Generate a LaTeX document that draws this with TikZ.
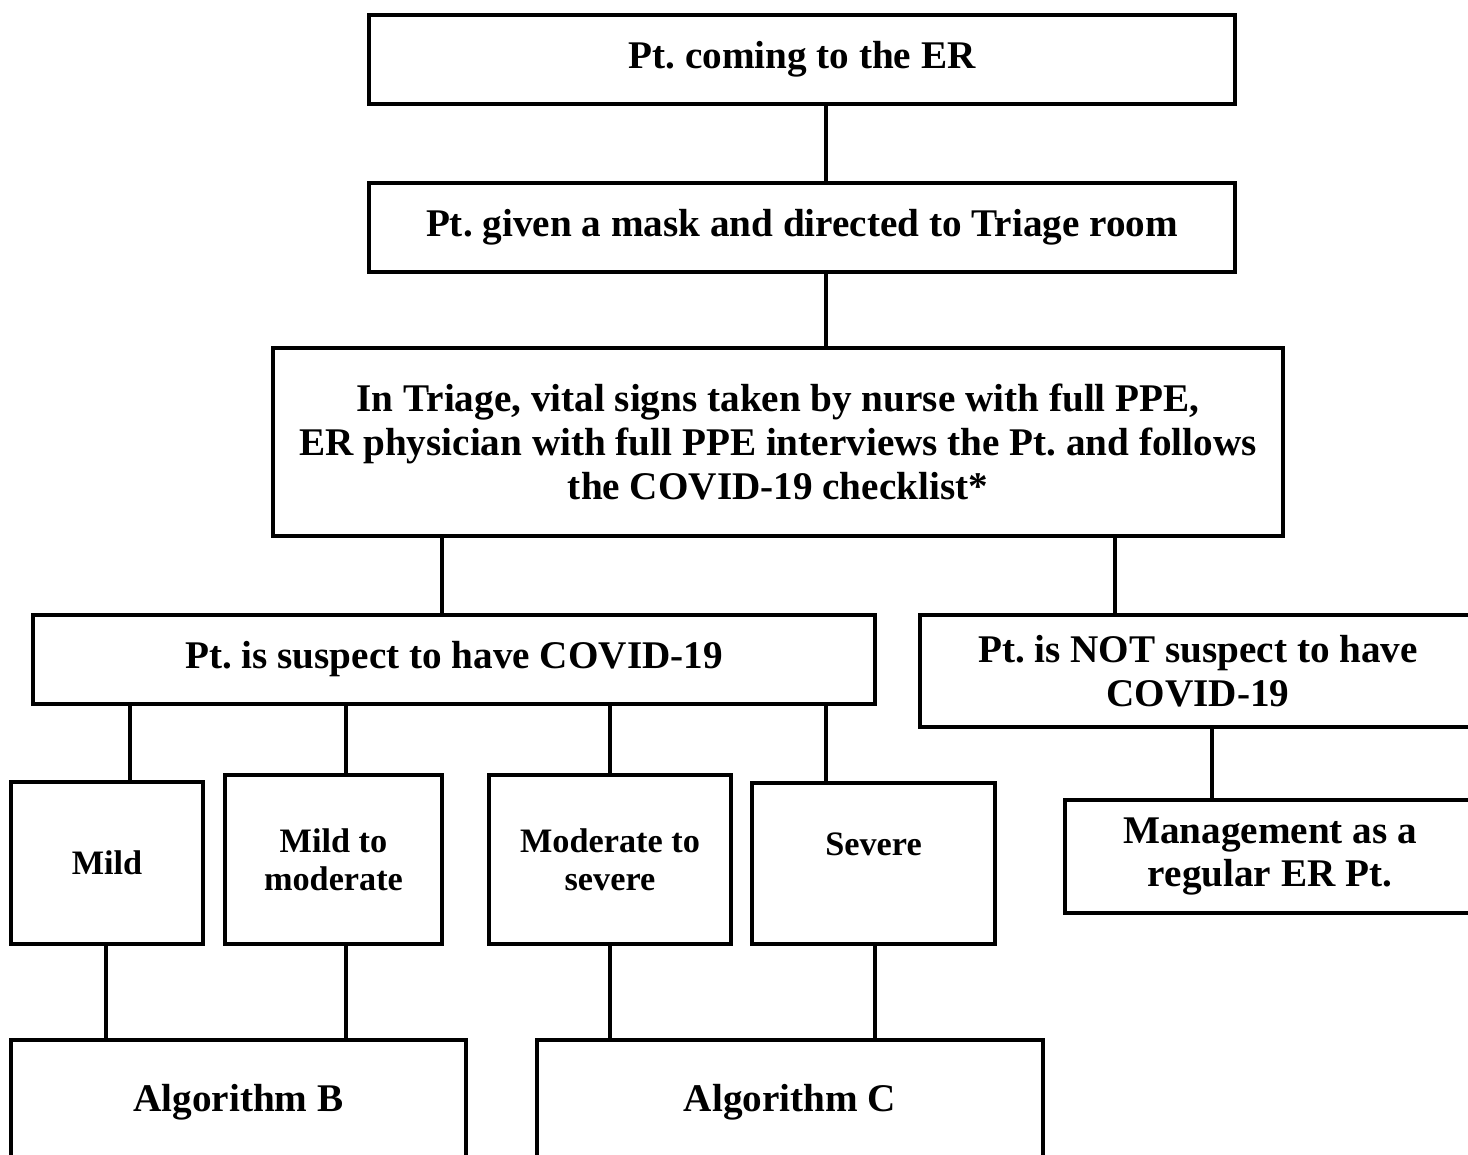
\documentclass[tikz,border=0pt]{standalone}
\usepackage{fontspec}
\setmainfont{Liberation Serif}
\frenchspacing
\tikzset{
  flowbox/.style={draw, line width=2.4pt, rectangle, align=center, inner sep=0pt,
    font=\bfseries\fontsize{22.3}{24.8}\selectfont},
  smallbox/.style={flowbox, font=\bfseries\fontsize{19.5}{21.6}\selectfont},
  link/.style={line width=2.2pt}
}
\begin{document}
\begin{tikzpicture}[x=0.02cm, y=-0.02cm]
    \useasboundingbox (0,0) rectangle (1468,1155);
    \clip (0,0) rectangle (1468,1155);
    \node (er) at (802,59.5) [flowbox, minimum width=17.32cm, minimum height=1.78cm] {Pt. coming to the ER};
    \node (mask) at (802,227.5) [flowbox, minimum width=17.32cm, minimum height=1.78cm] {Pt. given a mask and directed to Triage room};
    \node (triage) at (778,442) [flowbox, minimum width=20.2cm, minimum height=3.76cm]
    {In Triage, vital signs taken by nurse with full PPE,\\ER physician with full PPE interviews the Pt. and follows\\the COVID-19 checklist*};
    \node (sus) at (454,659.5) [flowbox, minimum width=16.84cm, minimum height=1.78cm] {Pt. is suspect to have COVID-19};
    \node (notsus) at (1198,671) [flowbox, minimum width=11.12cm, minimum height=2.24cm] {Pt. is NOT suspect to have\\COVID-19};
    \node (mild) at (107,863) [smallbox, minimum width=3.84cm, minimum height=3.24cm] {Mild};
    \node (mildmod) at (333.5,859.5) [smallbox, minimum width=4.34cm, minimum height=3.38cm] {Mild to\\moderate};
    \node (modsev) at (610,859.5) [smallbox, minimum width=4.84cm, minimum height=3.38cm] {Moderate to\\severe};
    \node (severe) at (873.5,863.5) [smallbox, minimum width=4.86cm, minimum height=3.22cm] {Severe\\\phantom{S}};
    \node (mgmt) at (1270,856.5) [flowbox, minimum width=8.2cm, minimum height=2.26cm] {Management as a\\regular ER Pt.};
    \node (algb) at (238.5,1102) [flowbox, minimum width=9.1cm, minimum height=2.48cm] {Algorithm B};
    \node (algc) at (790,1102) [flowbox, minimum width=10.12cm, minimum height=2.48cm] {Algorithm C};
    % connectors
    \draw[link] (er.south -| 826,0) -- (mask.north -| 826,0);
    \draw[link] (mask.south -| 826,0) -- (triage.north -| 826,0);
    \draw[link] (triage.south -| 442,0) -- (sus.north -| 442,0);
    \draw[link] (triage.south -| 1115,0) -- (notsus.north -| 1115,0);
    \draw[link] (sus.south -| 130,0) -- (mild.north -| 130,0);
    \draw[link] (sus.south -| 346,0) -- (mildmod.north -| 346,0);
    \draw[link] (sus.south -| 610,0) -- (modsev.north -| 610,0);
    \draw[link] (sus.south -| 826,0) -- (severe.north -| 826,0);
    \draw[link] (notsus.south -| 1212,0) -- (mgmt.north -| 1212,0);
    \draw[link] (mild.south -| 106,0) -- (algb.north -| 106,0);
    \draw[link] (mildmod.south -| 346,0) -- (algb.north -| 346,0);
    \draw[link] (modsev.south -| 610,0) -- (algc.north -| 610,0);
    \draw[link] (severe.south -| 875,0) -- (algc.north -| 875,0);
  \end{tikzpicture}
\end{document}
